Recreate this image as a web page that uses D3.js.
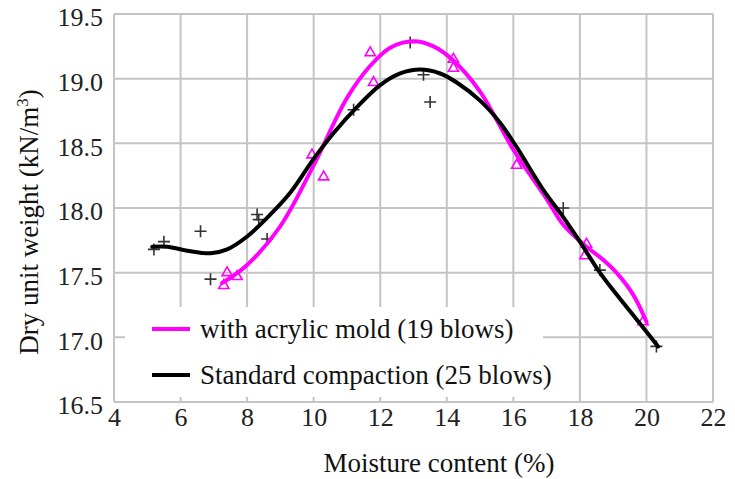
<!DOCTYPE html>
<html>
<head>
<meta charset="utf-8">
<script src="https://cdn.jsdelivr.net/npm/d3@7"></script>
<style>
  html, body { margin: 0; padding: 0; background: #fff; }
  svg { display: block; font-family: "Liberation Serif", "Times New Roman", serif; }
</style>
</head>
<body>
<svg id="chart" width="735" height="479"></svg>
<script>
// Compaction test results: moisture content (%) vs dry unit weight (kN/m3)

// Measured points, acrylic mold (19 blows)
const acrylicX = [7.3, 7.4, 7.7, 9.95, 10.3, 11.7, 11.8, 14.2, 14.2, 16.1, 18.2, 18.15, 19.9];
const acrylicY = [17.40, 17.50, 17.47, 18.41, 18.24, 19.20, 18.97, 19.08, 19.15, 18.33, 17.72, 17.63, 17.12];

// Measured points, standard compaction (25 blows)
const standardX = [5.2, 5.5, 6.6, 6.9, 8.3, 8.35, 8.6, 11.2, 12.9, 13.3, 13.5, 17.5, 18.6, 20.3];
const standardY = [17.68, 17.74, 17.82, 17.45, 17.95, 17.91, 17.76, 18.76, 19.28, 19.03, 18.82, 18.00, 17.52, 16.93];

// Fitted curve, acrylic mold
const acrylicFitX = [7.25, 8.0, 9.0, 10.0, 11.0, 11.7, 12.3, 13.0, 13.6, 14.2, 15.0, 15.5, 16.0, 17.0, 17.5, 18.2, 18.7, 19.1, 19.6, 20.0];
const acrylicFitY = [17.42, 17.56, 17.86, 18.33, 18.85, 19.10, 19.24, 19.29, 19.25, 19.14, 18.90, 18.68, 18.45, 18.07, 17.87, 17.70, 17.60, 17.50, 17.33, 17.12];

// Fitted curve, standard compaction
const standardFitX = [5.15, 5.6, 6.2, 6.9, 7.4, 8.0, 8.7, 9.3, 10.0, 10.6, 11.3, 12.0, 12.6, 13.2, 13.8, 14.3, 15.0, 15.6, 16.1, 16.9, 17.5, 18.0, 18.6, 19.2, 19.7, 20.35];
const standardFitY = [17.70, 17.70, 17.67, 17.65, 17.68, 17.78, 17.95, 18.12, 18.38, 18.58, 18.78, 18.95, 19.04, 19.07, 19.04, 18.97, 18.83, 18.66, 18.47, 18.14, 17.93, 17.74, 17.50, 17.30, 17.14, 16.93];

const xTicks = [4, 6, 8, 10, 12, 14, 16, 18, 20, 22];
const yTicks = [16.5, 17.0, 17.5, 18.0, 18.5, 19.0, 19.5];

const seriesNames = ["with acrylic mold (19 blows)", "Standard compaction (25 blows)"];
const seriesColors = ["#ff00ff", "#000000"];

const svg = d3.select("#chart");
const plot = { left: 114, right: 713, top: 14, bottom: 402 };

const x = d3.scaleLinear().domain([4, 22]).range([plot.left, plot.right]);
const y = d3.scaleLinear().domain([16.5, 19.5]).range([plot.bottom, plot.top]);

const gridColor = "#c4c4c4";

// grid lines
const grid = svg.append("g");
grid.selectAll("line.v").data(xTicks).join("line")
  .attr("x1", d => x(d)).attr("x2", d => x(d))
  .attr("y1", plot.top).attr("y2", plot.bottom)
  .attr("stroke", gridColor).attr("stroke-width", 2);
grid.selectAll("line.h").data(yTicks).join("line")
  .attr("x1", plot.left).attr("x2", plot.right)
  .attr("y1", d => y(d)).attr("y2", d => y(d))
  .attr("stroke", gridColor).attr("stroke-width", 2);

// tick labels
const yAxis = d3.axisLeft(y).tickValues(yTicks).tickFormat(d3.format(".1f")).tickSize(0).tickPadding(11);
const yAxisG = svg.append("g").attr("transform", `translate(${plot.left},0)`).call(yAxis);
const xAxis = d3.axisBottom(x).tickValues(xTicks).tickFormat(d3.format("d")).tickSize(0).tickPadding(6);
const xAxisG = svg.append("g").attr("transform", `translate(0,${plot.bottom})`).call(xAxis);
[yAxisG, xAxisG].forEach(g => {
  g.select(".domain").remove();
  g.selectAll("text")
    .attr("font-family", "Liberation Serif, Times New Roman, serif")
    .attr("font-size", 26).attr("fill", "#222");
});
yAxisG.selectAll("text").attr("dy", "0.45em");

// fitted curves
const line = d3.line().x(d => x(d[0])).y(d => y(d[1])).curve(d3.curveCatmullRom.alpha(0.5));
const curves = [
  d3.zip(acrylicFitX, acrylicFitY),
  d3.zip(standardFitX, standardFitY)
];

// markers: open triangles for the acrylic mold, plus signs for standard compaction
const tri = d3.symbol().type(d3.symbolTriangle).size(45);
svg.append("g").selectAll("path").data(d3.zip(acrylicX, acrylicY)).join("path")
  .attr("d", tri)
  .attr("transform", d => `translate(${x(d[0])},${y(d[1])})`)
  .attr("fill", "none").attr("stroke", seriesColors[0]).attr("stroke-width", 1.6);

const plus = svg.append("g");
plus.selectAll("path").data(d3.zip(standardX, standardY)).join("path")
  .attr("d", "M-6,0H6M0,-6V6")
  .attr("transform", d => `translate(${x(d[0])},${y(d[1])})`)
  .attr("stroke", "#333").attr("stroke-width", 1.6).attr("fill", "none");

svg.append("g").selectAll("path").data(curves).join("path")
  .attr("d", line)
  .attr("fill", "none")
  .attr("stroke", (d, i) => seriesColors[i])
  .attr("stroke-width", 4)
  .attr("stroke-linecap", "round");

// legend
const legend = svg.append("g");
legend.append("rect")
  .attr("x", 125).attr("y", 307).attr("width", 418).attr("height", 90)
  .attr("fill", "#fff");
const rows = legend.selectAll("g").data(seriesNames).join("g")
  .attr("transform", (d, i) => `translate(0,${329 + i * 46})`);
rows.append("line")
  .attr("x1", 152).attr("x2", 190).attr("y1", 0).attr("y2", 0)
  .attr("stroke", (d, i) => seriesColors[i]).attr("stroke-width", 4);
rows.append("text")
  .attr("x", 200).attr("y", 9)
  .attr("font-size", 27).attr("fill", "#111")
  .text(d => d);

// axis titles
svg.append("text")
  .attr("x", 439).attr("y", 472)
  .attr("text-anchor", "middle").attr("font-size", 27).attr("fill", "#111")
  .text("Moisture content (%)");

const yTitle = svg.append("text")
  .attr("transform", `translate(38,222) rotate(-90)`)
  .attr("text-anchor", "middle").attr("font-size", 27).attr("fill", "#111");
yTitle.append("tspan").text("Dry unit weight (kN/m");
yTitle.append("tspan").attr("font-size", 17).attr("dy", -10).text("3");
yTitle.append("tspan").attr("dy", 10).text(")");
</script>
</body>
</html>
